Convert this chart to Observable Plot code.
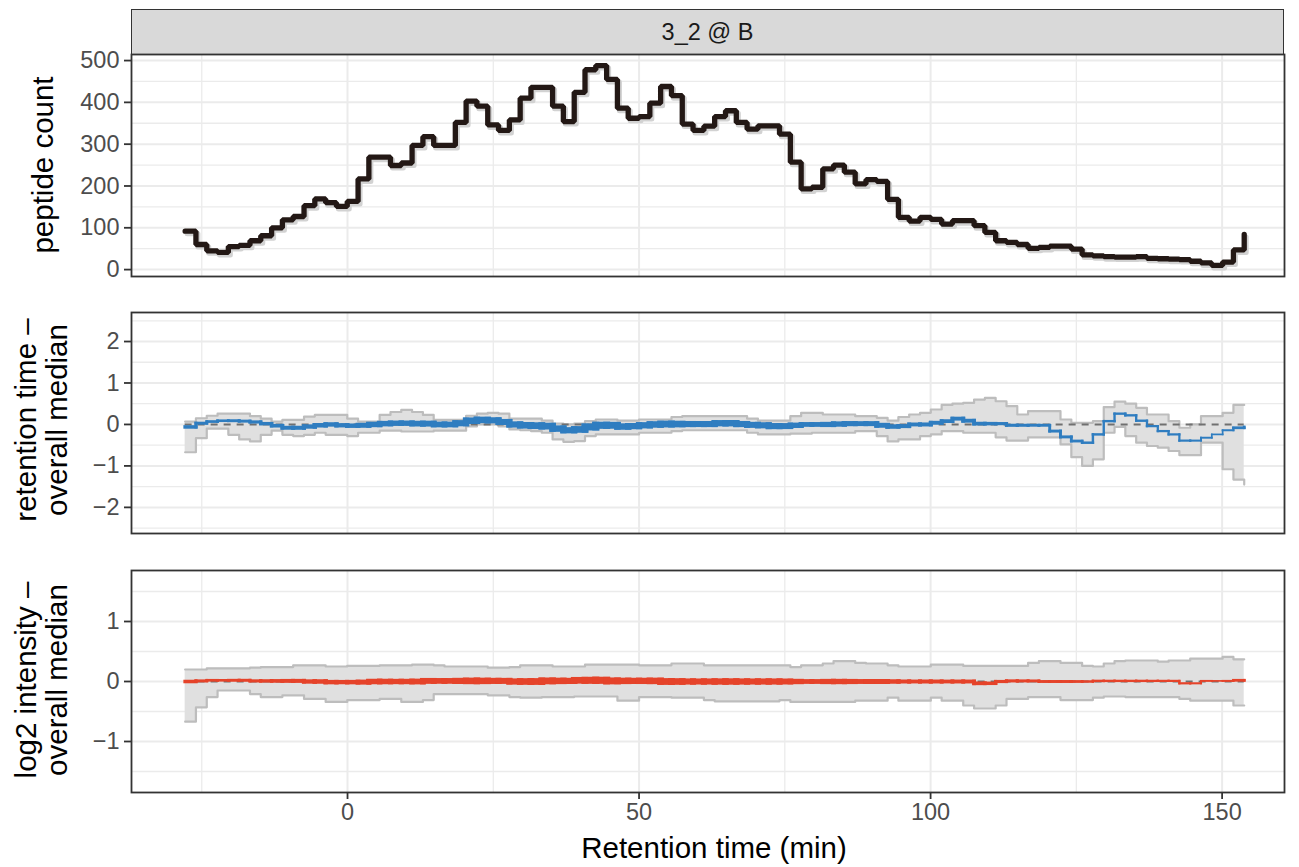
<!DOCTYPE html>
<html><head><meta charset="utf-8">
<script src="https://cdn.jsdelivr.net/npm/d3@7"></script>
<script src="https://cdn.jsdelivr.net/npm/@observablehq/plot@0.6"></script>
<style>
body{margin:0;background:#fff;font-family:"Liberation Sans",Arial,Helvetica,sans-serif;}
#root{position:relative;width:1299px;height:867px;overflow:hidden;background:#fff;}
#strip{position:absolute;left:131px;top:9px;width:1153px;height:46px;box-sizing:border-box;background:#d9d9d9;border:1.8px solid #333;color:#1a1a1a;font-size:23.5px;display:flex;align-items:center;justify-content:center;}
</style></head><body><div id="root"><div id="strip">3_2 @ B</div></div>
<script>
// ---- data ----
const panelLabel = "3_2 @ B";
const rt = [-27.85,-26.00,-24.14,-22.29,-20.44,-18.58,-16.73,-14.88,-13.02,-11.17,
  -9.32,-7.46,-5.61,-3.75,-1.90,-0.05,1.81,3.66,5.51,7.37,
  9.22,11.07,12.93,14.78,16.63,18.49,20.34,22.19,24.05,25.90,
  27.76,29.61,31.46,33.32,35.17,37.02,38.88,40.73,42.58,44.44,
  46.29,48.14,50.00,51.85,53.70,55.56,57.41,59.26,61.12,62.97,
  64.83,66.68,68.53,70.39,72.24,74.09,75.95,77.80,79.65,81.51,
  83.36,85.21,87.07,88.92,90.77,92.63,94.48,96.33,98.19,100.04,
  101.90,103.75,105.60,107.46,109.31,111.16,113.02,114.87,116.72,118.58,
  120.43,122.28,124.14,125.99,127.84,129.70,131.55,133.40,135.26,137.11,
  138.97,140.82,142.67,144.53,146.38,148.23,150.09,151.94,153.79];
const peptideCount = [92,60,45,41,55,58,69,81,100,119,
  127,153,169,160,151,163,217,269,269,249,
  255,297,318,297,297,352,403,391,346,333,
  358,410,436,436,391,354,424,478,488,455,
  386,362,366,398,438,416,348,333,343,366,
  380,352,336,344,344,324,257,193,197,241,
  250,233,205,215,211,168,125,116,125,120,
  109,117,117,105,89,69,65,60,51,53,
  56,56,49,35,33,31,30,30,31,27,
  26,25,24,20,16,10,18,47,84];
const rtMedian = [-0.06,0.03,0.07,0.09,0.09,0.08,0.06,0.02,-0.03,-0.08,
  -0.08,-0.05,-0.02,0.0,-0.02,-0.03,-0.02,0.0,0.02,0.03,
  0.03,0.02,0.02,0.0,0.0,0.03,0.09,0.11,0.10,0.06,
  0.0,-0.02,-0.03,-0.04,-0.10,-0.14,-0.12,-0.06,-0.02,-0.02,
  -0.05,-0.04,-0.02,0.0,0.01,0.01,0.01,0.01,0.01,0.03,
  0.03,0.01,-0.01,-0.02,-0.04,-0.04,-0.02,0.0,0.0,0.0,
  0.01,0.02,0.02,0.02,-0.02,-0.05,-0.04,0.0,0.0,0.04,
  0.08,0.14,0.09,0.02,0.02,0.02,-0.02,-0.02,-0.02,-0.02,
  -0.16,-0.30,-0.40,-0.44,-0.24,0.08,0.26,0.22,0.09,-0.04,
  -0.16,-0.24,-0.39,-0.39,-0.32,-0.24,-0.14,-0.08,-0.06];
const rtUpper = [0.07,0.15,0.21,0.26,0.26,0.26,0.20,0.14,0.07,0.11,
  0.11,0.19,0.23,0.23,0.23,0.14,0.07,0.07,0.23,0.30,
  0.35,0.30,0.23,0.11,0.11,0.11,0.21,0.26,0.28,0.26,
  0.14,0.14,0.14,0.09,0.02,0.0,0.02,0.08,0.12,0.12,
  0.09,0.09,0.12,0.12,0.12,0.18,0.20,0.20,0.20,0.20,
  0.20,0.20,0.14,0.09,0.09,0.09,0.20,0.28,0.28,0.24,
  0.24,0.24,0.20,0.20,0.16,0.09,0.18,0.24,0.28,0.36,
  0.47,0.50,0.52,0.60,0.64,0.56,0.44,0.24,0.32,0.32,
  0.32,0.12,0.04,0.04,0.08,0.42,0.55,0.50,0.40,0.24,
  0.24,0.08,-0.08,0.0,0.20,0.20,0.28,0.47,0.47];
const rtLower = [-0.67,-0.33,-0.10,-0.10,-0.25,-0.36,-0.41,-0.25,-0.15,-0.25,
  -0.28,-0.25,-0.20,-0.25,-0.25,-0.28,-0.20,-0.20,-0.15,-0.15,
  -0.17,-0.17,-0.17,-0.15,-0.15,-0.15,-0.05,0.0,0.0,-0.05,
  -0.12,-0.14,-0.16,-0.20,-0.36,-0.42,-0.40,-0.28,-0.24,-0.24,
  -0.24,-0.24,-0.20,-0.20,-0.20,-0.16,-0.14,-0.14,-0.14,-0.14,
  -0.14,-0.14,-0.20,-0.24,-0.24,-0.24,-0.22,-0.22,-0.20,-0.20,
  -0.20,-0.20,-0.16,-0.16,-0.28,-0.41,-0.36,-0.36,-0.28,-0.24,
  -0.16,-0.16,-0.20,-0.20,-0.20,-0.31,-0.39,-0.39,-0.31,-0.31,
  -0.31,-0.48,-0.79,-1.00,-0.84,-0.20,-0.06,-0.28,-0.44,-0.52,
  -0.56,-0.64,-0.74,-0.74,-0.44,-0.44,-1.08,-1.33,-1.45];
const intMedian = [0.0,0.01,0.02,0.02,0.02,0.02,0.01,0.01,0.01,0.01,
  0.01,0.0,0.0,-0.01,-0.01,-0.01,-0.01,0.0,0.0,0.0,
  0.0,0.0,0.01,0.01,0.01,0.01,0.01,0.01,0.01,0.01,
  0.0,0.0,0.0,0.01,0.01,0.01,0.02,0.02,0.02,0.01,
  0.01,0.01,0.01,0.01,0.0,0.0,0.0,0.0,0.0,0.0,
  0.0,0.0,0.0,0.0,0.0,0.0,0.0,0.0,0.0,0.0,
  0.0,0.0,0.0,0.0,0.0,0.0,0.0,0.0,0.0,0.0,
  0.0,0.0,0.0,-0.03,-0.03,0.0,0.01,0.01,0.01,0.0,
  0.0,0.0,0.0,0.0,0.01,0.01,0.01,0.01,0.01,0.01,
  0.01,0.01,-0.03,-0.03,0.01,0.01,0.01,0.02,0.02];
const intUpper = [0.20,0.20,0.22,0.22,0.22,0.22,0.23,0.24,0.24,0.24,
  0.27,0.27,0.27,0.25,0.25,0.26,0.26,0.26,0.27,0.27,
  0.27,0.28,0.28,0.27,0.25,0.25,0.25,0.25,0.23,0.23,
  0.24,0.27,0.27,0.27,0.25,0.25,0.25,0.28,0.28,0.28,
  0.28,0.28,0.27,0.27,0.27,0.30,0.30,0.30,0.27,0.27,
  0.27,0.27,0.27,0.27,0.27,0.27,0.24,0.27,0.27,0.30,
  0.34,0.34,0.31,0.30,0.30,0.27,0.25,0.25,0.25,0.28,
  0.28,0.28,0.26,0.26,0.26,0.26,0.26,0.26,0.31,0.34,
  0.34,0.31,0.31,0.26,0.25,0.30,0.34,0.35,0.35,0.35,
  0.33,0.35,0.35,0.38,0.38,0.38,0.41,0.37,0.37];
const intLower = [-0.67,-0.43,-0.26,-0.15,-0.15,-0.15,-0.21,-0.26,-0.26,-0.23,
  -0.23,-0.29,-0.29,-0.34,-0.34,-0.31,-0.31,-0.31,-0.29,-0.29,
  -0.34,-0.34,-0.31,-0.21,-0.21,-0.21,-0.21,-0.21,-0.23,-0.23,
  -0.26,-0.27,-0.27,-0.26,-0.26,-0.26,-0.25,-0.25,-0.25,-0.25,
  -0.32,-0.32,-0.26,-0.26,-0.26,-0.27,-0.27,-0.27,-0.31,-0.33,
  -0.33,-0.33,-0.33,-0.33,-0.33,-0.31,-0.34,-0.34,-0.34,-0.34,
  -0.34,-0.34,-0.32,-0.32,-0.32,-0.27,-0.32,-0.32,-0.32,-0.27,
  -0.32,-0.32,-0.40,-0.45,-0.45,-0.40,-0.29,-0.29,-0.26,-0.26,
  -0.26,-0.31,-0.31,-0.31,-0.27,-0.25,-0.25,-0.26,-0.26,-0.26,
  -0.26,-0.26,-0.29,-0.32,-0.32,-0.32,-0.32,-0.40,-0.40];
const xTicks = [0, 50, 100, 150];
const xMinor = [-25, 25, 75, 125];
const countTicks = [0, 100, 200, 300, 400, 500];
const countMinor = [50, 150, 250, 350, 450];
const rtTicks = [-2, -1, 0, 1, 2];
const rtMinor = [-2.5, -1.5, -0.5, 0.5, 1.5, 2.5];
const intTicks = [-1, 0, 1];
const intMinor = [-1.5, -0.5, 0.5, 1.5];
const xTitle = "Retention time (min)";
const yTitles = [["peptide count"], ["retention time \u2013", "overall median"], ["log2 intensity \u2013", "overall median"]];

// ---- drawing ----
const W = 1299;
const X_DOMAIN = [-37.05, 160.7];
const FONT = '"Liberation Sans", Arial, Helvetica, sans-serif';
const TICK_FS = 23.5, TITLE_FS = 29.5;
const root = document.getElementById("root");
document.getElementById("strip").textContent = panelLabel;

const rows = rt.map((t, i) => ({t, count: peptideCount[i],
  rtMed: rtMedian[i], rtLo: rtLower[i], rtHi: rtUpper[i],
  iMed: intMedian[i], iLo: intLower[i], iHi: intUpper[i]}));

const widthScale = d3.scaleSqrt().domain([0, 500]).range([0.8, 7.2]);
function stepSegments(key) {
  const segs = [];
  for (let i = 0; i < rows.length - 1; i++) {
    const a = rows[i], b = rows[i + 1];
    segs.push({x1: a.t, x2: b.t, y1: a[key], y2: a[key], w: widthScale(a.count)});
    segs.push({x1: b.t, x2: b.t, y1: a[key], y2: b[key], w: widthScale(Math.min(a.count, b.count))});
  }
  return segs;
}
const fmt = d => d < 0 ? "\u2212" + Math.abs(d) : String(d);

function panel({top, frameH, marginBottom = 3, domain, ticks, minor, marks, xAxis = false}) {
  const mt = 3;
  const svg = Plot.plot({
    width: W, height: mt + frameH + marginBottom,
    marginLeft: 131, marginRight: 15, marginTop: mt, marginBottom,
    style: {fontFamily: FONT, background: "transparent", overflow: "visible"},
    x: {domain: X_DOMAIN, axis: null},
    y: {domain, axis: null},
    marks: [
      Plot.gridX(xMinor, {stroke: "#ebebeb", strokeOpacity: 1, strokeWidth: 1.3}),
      Plot.gridY(minor, {stroke: "#ebebeb", strokeOpacity: 1, strokeWidth: 1.3}),
      Plot.gridX(xTicks, {stroke: "#ebebeb", strokeOpacity: 1, strokeWidth: 2}),
      Plot.gridY(ticks, {stroke: "#ebebeb", strokeOpacity: 1, strokeWidth: 2}),
      ...marks,
      Plot.frame({stroke: "#333333", strokeWidth: 1.8}),
      Plot.axisY(ticks, {tickSize: 7, tickPadding: 5, stroke: "#333333", strokeWidth: 1.8,
        color: "#4d4d4d", fontSize: TICK_FS, label: null, tickFormat: fmt}),
      xAxis ? Plot.axisX(xTicks, {tickSize: 7, tickPadding: 4, stroke: "#333333", strokeWidth: 1.8,
        color: "#4d4d4d", fontSize: TICK_FS, label: null, tickFormat: fmt}) : null
    ]
  });
  svg.style.position = "absolute";
  svg.style.left = "0px";
  svg.style.top = (top - mt) + "px";
  root.appendChild(svg);
}

function ribbonMarks(lo, hi, med, color) {
  const ends = [{y: 0, a: rt[0], b: rt[rt.length - 1]}];
  return [
    Plot.areaY(rows, {x: "t", y1: lo, y2: hi, curve: "step-after", fill: "#e0e0e0"}),
    Plot.line(rows, {x: "t", y: hi, curve: "step-after", stroke: "#bdbdbd", strokeWidth: 2.2}),
    Plot.line(rows, {x: "t", y: lo, curve: "step-after", stroke: "#bdbdbd", strokeWidth: 2.2}),
    Plot.ruleY(ends, {y: "y", x1: "a", x2: "b", stroke: "#707070", strokeWidth: 2, strokeDasharray: "7,6"}),
    Plot.link(stepSegments(med), {x1: "x1", y1: "y1", x2: "x2", y2: "y2", stroke: color,
      strokeWidth: "w", strokeLinecap: "square"})
  ];
}

panel({top: 54, frameH: 222, domain: [-16.5, 514.5], ticks: countTicks, minor: countMinor,
  marks: [
    Plot.line(rows, {x: "t", y: "count", curve: "step-after", stroke: "#d2d2d2", strokeWidth: 5, dx: 2, dy: 2.5}),
    Plot.line(rows, {x: "t", y: "count", curve: "step-after", stroke: "#231815", strokeWidth: 5.3, strokeLinejoin: "miter"})
  ]});
panel({top: 312, frameH: 221, domain: [-2.63, 2.70], ticks: rtTicks, minor: rtMinor,
  marks: ribbonMarks("rtLo", "rtHi", "rtMed", "#2f7dc0")});
panel({top: 570, frameH: 222, marginBottom: 75, domain: [-1.85, 1.85], ticks: intTicks, minor: intMinor,
  marks: ribbonMarks("iLo", "iHi", "iMed", "#e5432a"), xAxis: true});

// titles overlay
const ov = d3.select(root).append("svg").attr("width", W).attr("height", 867)
  .style("position", "absolute").style("left", "0px").style("top", "0px")
  .style("font-family", FONT).style("pointer-events", "none");
ov.append("text").attr("x", 714).attr("y", 847).attr("text-anchor", "middle")
  .attr("dominant-baseline", "central").attr("font-size", TITLE_FS).attr("fill", "#000").text(xTitle);
const centers = [165, 420, 680];
yTitles.forEach((lines, k) => {
  const xs = lines.length === 1 ? [42] : [25, 56];
  lines.forEach((s, j) => {
    ov.append("text").attr("transform", `translate(${xs[j]},${centers[k]}) rotate(-90)`)
      .attr("text-anchor", "middle").attr("dominant-baseline", "central")
      .attr("font-size", TITLE_FS).attr("fill", "#000").text(s);
  });
});
</script></body></html>
